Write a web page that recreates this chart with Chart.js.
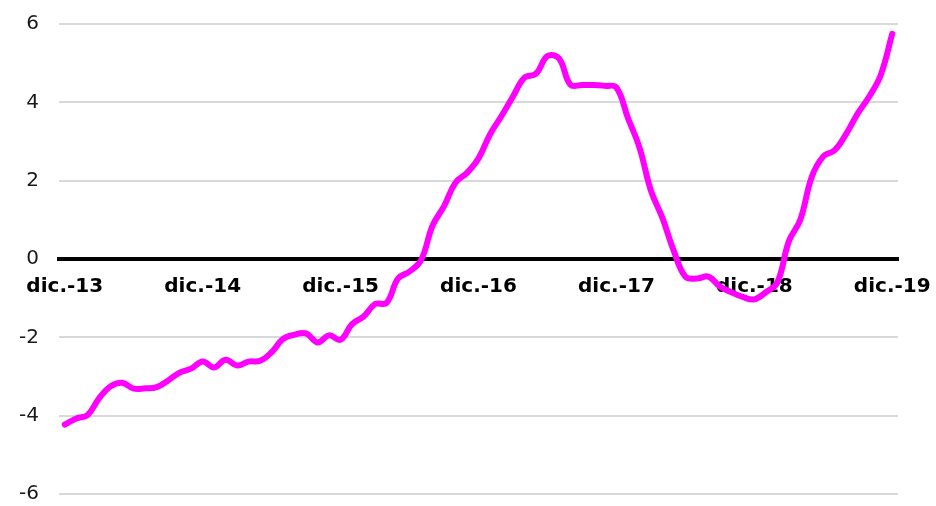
<!DOCTYPE html>
<html>
<head>
<meta charset="utf-8">
<script src="https://cdn.jsdelivr.net/npm/chart.js@4/dist/chart.umd.min.js"></script>
<style>
  html,body{margin:0;padding:0;background:#fff}
  #wrap{width:936px;height:506px;position:relative}
</style>
</head>
<body>
<div id="wrap"><canvas id="chart"></canvas></div>
<script>
// monthly, dic.-13 .. dic.-19
const months = [
  'dic.-13',
  'ene.-14','feb.-14','mar.-14','abr.-14','may.-14','jun.-14','jul.-14','ago.-14','sep.-14','oct.-14','nov.-14','dic.-14',
  'ene.-15','feb.-15','mar.-15','abr.-15','may.-15','jun.-15','jul.-15','ago.-15','sep.-15','oct.-15','nov.-15','dic.-15',
  'ene.-16','feb.-16','mar.-16','abr.-16','may.-16','jun.-16','jul.-16','ago.-16','sep.-16','oct.-16','nov.-16','dic.-16',
  'ene.-17','feb.-17','mar.-17','abr.-17','may.-17','jun.-17','jul.-17','ago.-17','sep.-17','oct.-17','nov.-17','dic.-17',
  'ene.-18','feb.-18','mar.-18','abr.-18','may.-18','jun.-18','jul.-18','ago.-18','sep.-18','oct.-18','nov.-18','dic.-18',
  'ene.-19','feb.-19','mar.-19','abr.-19','may.-19','jun.-19','jul.-19','ago.-19','sep.-19','oct.-19','nov.-19','dic.-19'
];

const values = [
  -4.23,
  -4.07,-3.98,-3.55,-3.25,-3.16,-3.31,-3.30,-3.27,-3.10,-2.90,-2.80,-2.62,
  -2.77,-2.57,-2.72,-2.62,-2.60,-2.38,-2.04,-1.93,-1.90,-2.13,-1.95,-2.06,
  -1.66,-1.47,-1.15,-1.12,-0.50,-0.32,-0.03,0.85,1.35,1.95,2.20,2.57,
  3.18,3.65,4.15,4.63,4.73,5.18,5.12,4.45,4.44,4.44,4.42,4.38,
  3.60,2.85,1.75,1.05,0.20,-0.45,-0.50,-0.45,-0.70,-0.85,-0.97,-1.03,
  -0.85,-0.60,0.45,1.00,2.10,2.62,2.78,3.20,3.72,4.15,4.70,5.75
];

const yTicks = [-6,-4,-2,0,2,4,6];

const font = '"DejaVu Sans", Verdana, sans-serif';

new Chart(document.getElementById('chart'),{
  type:'line',
  data:{
    labels:months,
    datasets:[{
      data:values,
      borderColor:'#ff00ff',
      borderWidth:6,
      tension:0.4,
      pointRadius:0,
      borderCapStyle:'round',
      borderJoinStyle:'round',
      fill:false
    }]
  },
  options:{
    responsive:true,
    maintainAspectRatio:false,
    animation:false,
    layout:{padding:{top:24,bottom:12,left:0,right:38}},
    plugins:{legend:{display:false},tooltip:{enabled:false}},
    scales:{
      x:{
        position:{y:0},
        offset:true,
        grid:{display:false,drawTicks:false},
        border:{display:true,color:'#000',width:4},
        // axis sits on the zero line, don't let it eat layout space
        afterFit:s=>{s.height=0;s.paddingLeft=0;s.paddingRight=0;s.paddingTop=0;s.paddingBottom=0},
        ticks:{
          autoSkip:false,maxRotation:0,padding:16,color:'#000',
          font:{family:font,size:20,weight:'bold'},
          callback:(v,i)=>months[i].startsWith('dic.')?months[i]:''
        }
      },
      y:{
        min:yTicks[0],max:yTicks[yTicks.length-1],
        afterBuildTicks:s=>{s.ticks=yTicks.map(v=>({value:v}))},
        afterFit:s=>{s.width=59;s.paddingTop=0;s.paddingBottom=0},
        grid:{
          drawTicks:false,lineWidth:2,
          color:c=>c.tick&&c.tick.value===0?'rgba(0,0,0,0)':'#d9d9d9'
        },
        border:{display:false},
        ticks:{padding:20,color:'#1a1a1a',font:{family:font,size:20}}
      }
    }
  }
});
</script>
</body>
</html>
